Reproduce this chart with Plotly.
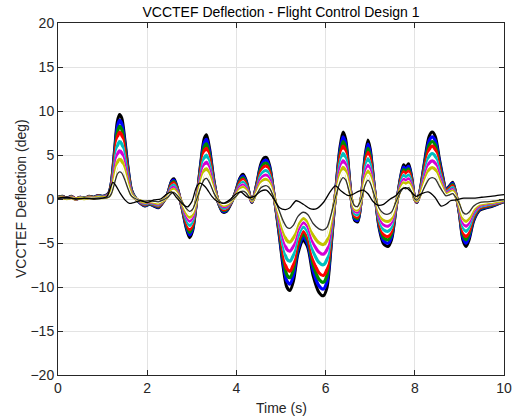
import plotly.graph_objects as go
import numpy as np

# Largest-gain response (outer envelope of the family), deg vs s
t_outer = [0.0, 0.1, 0.2, 0.3, 0.4, 0.5, 0.6, 0.7, 0.8, 0.9, 1.0, 1.1, 1.15,
           1.2, 1.27, 1.33, 1.38, 1.43, 1.5, 1.57, 1.65, 1.75, 1.85, 1.95,
           2.05, 2.15, 2.25, 2.35, 2.45, 2.55, 2.6, 2.68, 2.78, 2.88, 2.95,
           3.02, 3.1, 3.2, 3.28, 3.33, 3.4, 3.5, 3.6, 3.7, 3.78, 3.88, 3.98,
           4.08, 4.15, 4.22, 4.35, 4.45, 4.55, 4.63, 4.68, 4.75, 4.85, 4.95,
           5.05, 5.13, 5.2, 5.28, 5.38, 5.5, 5.6, 5.72, 5.85, 5.95, 6.03,
           6.12, 6.22, 6.32, 6.39, 6.45, 6.55, 6.65, 6.72, 6.8, 6.88, 6.95,
           7.0, 7.1, 7.2, 7.3, 7.4, 7.48, 7.58, 7.68, 7.75, 7.8, 7.86, 7.93,
           8.0, 8.05, 8.12, 8.22, 8.32, 8.39, 8.46, 8.55, 8.63, 8.7, 8.78,
           8.85, 8.93, 9.0, 9.08, 9.15, 9.22, 9.32, 9.45, 9.6, 9.75, 9.9, 10.0]
v_outer = [0.2, 0.3, 0.1, 0.3, 0.0, 0.2, 0.1, 0.3, 0.2, 0.4, 0.3, 0.5, 0.8,
           2.0, 5.7, 8.8, 9.6, 9.2, 6.7, 3.6, 1.0, 0.0, -0.5, -0.8,
           -0.6, -0.8, -1.0, -0.4, 0.5, 2.1, 2.3, 1.2, -1.0, -3.4, -4.4,
           -3.6, -0.5, 4.1, 6.9, 7.3, 5.7, 2.0, -0.5, -1.5, -1.4, -0.5, 0.8,
           2.4, 2.8, 2.1, -0.4, 1.6, 4.0, 4.7, 4.7, 3.7, 0.2, -3.7,
           -7.8, -10.0, -10.4, -9.3, -6.2, -4.7, -5.5, -8.7, -10.6, -11.0, -10.1,
           -5.7, 0.5, 5.8, 7.6, 6.8, 1.5, -2.4, -2.6, 0.0, 4.7, 6.7,
           5.7, 1.0, -3.3, -5.1, -5.4, -4.6, -1.0, 2.5, 3.9, 3.6, 4.0, 2.5,
           0.0, -0.4, 1.0, 4.3, 7.1, 7.6, 7.1, 4.6, 2.5, 1.1, 1.5,
           1.9, 0.4, -1.7, -4.7, -5.4, -4.6, -2.5, -1.3, -1.0, -0.8, -0.5, -0.3]

# Gain of each response relative to the outer envelope, drawn outermost first
gains = [1.00, 0.93, 0.86, 0.79, 0.73, 0.68, 0.62, 0.57, 0.52, 0.47, 0.42, 0.32]
colors = ["#000000", "#0000ff", "#008a00", "#ff0000", "#ffffff", "#00bfbf",
          "#ffffff", "#d400d4", "#ffffff", "#c2c200", "#ffffff", "#303030"]
widths = [3.0, 3.2, 3.2, 3.2, 1.5, 3.2, 1.5, 3.2, 1.5, 3.2, 1.5, 1.3]

# Lowest-gain response (leads the others in phase)
t_low = [0.0, 0.2, 0.4, 0.6, 0.8, 1.0, 1.1, 1.17, 1.23, 1.3, 1.4, 1.5, 1.6,
         1.7, 1.85, 2.0, 2.15, 2.3, 2.45, 2.55, 2.65, 2.8, 2.9, 3.0, 3.1,
         3.18, 3.3, 3.45, 3.55, 3.7, 3.85, 4.0, 4.1, 4.25, 4.4, 4.55, 4.67,
         4.8, 4.97, 5.1, 5.2, 5.34, 5.5, 5.65, 5.8, 5.95, 6.1, 6.22, 6.35,
         6.5, 6.6, 6.75, 6.84, 6.95, 7.05, 7.17, 7.3, 7.45, 7.58, 7.7, 7.8,
         7.9, 8.03, 8.15, 8.3, 8.45, 8.59, 8.7, 8.8, 8.93, 9.1, 9.3, 9.5,
         9.7, 9.85, 10.0]
v_low = [0.1, 0.2, 0.0, 0.1, 0.0, 0.1, 0.3, 1.2, 1.9, 1.5, 0.6, -0.1, -0.5,
         -0.4, -0.2, -0.4, -0.1, 0.0, 0.6, 0.8, 0.2, -0.6, -0.9, -0.3, 1.3,
         1.8, 1.4, 0.3, -0.2, -0.5, -0.1, 0.6, 0.8, 0.2, 0.3, 0.9, 1.0,
         0.3, -1.0, -1.2, -1.0, -0.2, -0.6, -1.1, -1.1, -0.4, 0.8, 1.5, 0.9,
         0.4, 0.5, 0.9, 1.0, 0.6, -0.2, -0.7, -0.6, 0.0, 0.4, 1.1, 1.3,
         0.9, 0.3, 0.6, 0.8, 0.2, -0.8, -0.6, -0.2, -0.1, 0.1, 0.1, 0.2,
         0.3, 0.4, 0.5]

fig = go.Figure()
v_outer_arr = np.array(v_outer)
for g, c, w in zip(gains, colors, widths):
    fig.add_trace(go.Scatter(
        x=t_outer, y=(g * v_outer_arr).tolist(), mode="lines",
        line=dict(color=c, width=w, shape="spline", smoothing=0.8),
        showlegend=False, hoverinfo="skip"))
fig.add_trace(go.Scatter(
    x=t_low, y=v_low, mode="lines",
    line=dict(color="#000000", width=1.3, shape="spline", smoothing=0.8),
    showlegend=False, hoverinfo="skip"))

font_family = "Liberation Sans, Arial, sans-serif"
text_color = "#262626"
axis_common = dict(
    showline=True, linecolor=text_color, linewidth=1, mirror="ticks",
    ticks="inside", ticklen=5, tickcolor=text_color, tickwidth=1,
    showgrid=True, gridcolor="#e3e3e3", gridwidth=1, zeroline=False,
    automargin=False,
    tickfont=dict(family=font_family, size=14, color=text_color),
)
W, H = 516, 418
fig.update_layout(
    width=W, height=H,
    margin=dict(l=58, r=12, t=23, b=43),
    paper_bgcolor="white", plot_bgcolor="white",
    title=dict(text="VCCTEF Deflection - Flight Control Design 1",
               font=dict(family=font_family, size=14, color="#000000"),
               x=0.5, xanchor="center", xref="paper",
               y=1 - 12 / H, yanchor="middle", yref="container"),
    xaxis=dict(range=[0, 10], tickvals=[0, 2, 4, 6, 8, 10], **axis_common),
    yaxis=dict(range=[-20, 20], tickvals=[-20, -15, -10, -5, 0, 5, 10, 15, 20],
               **axis_common),
    annotations=[
        dict(text="Time (s)", xref="paper", yref="paper", x=0.5,
             y=-(408 - 375) / (H - 23 - 43), xanchor="center", yanchor="middle",
             showarrow=False,
             font=dict(family=font_family, size=14, color=text_color)),
        dict(text="VCCTEF Deflection (deg)", xref="paper", yref="paper",
             x=-(58 - 21) / (W - 58 - 12), y=0.5, xanchor="center",
             yanchor="middle", textangle=-90, showarrow=False,
             font=dict(family=font_family, size=14, color=text_color)),
    ],
)
fig.write_html("out.html")
